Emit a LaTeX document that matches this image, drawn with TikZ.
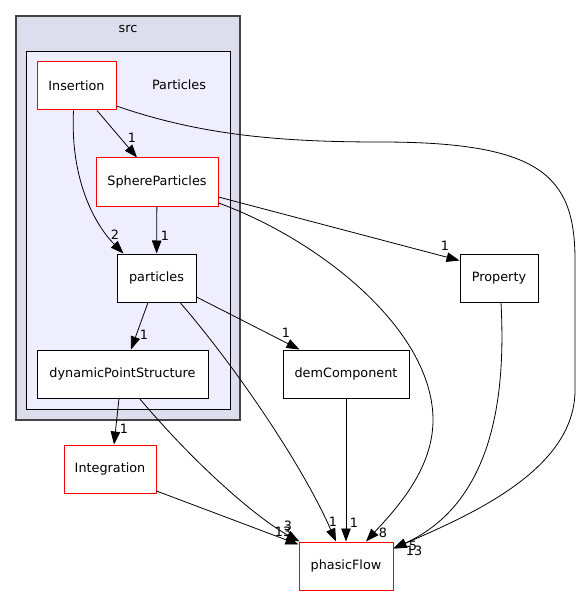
\documentclass[tikz,border=0pt]{standalone}
\usepackage{fontspec}
\setmainfont{DejaVu Sans}
\usetikzlibrary{arrows.meta,calc}
\definecolor{srcfill}{HTML}{DDDDEE}
\definecolor{srcdraw}{HTML}{444444}
\definecolor{partfill}{HTML}{EEEEFF}

\begin{document}
\begin{tikzpicture}[x=1pt, y=-1pt, every node/.style={font=\fontsize{12.8}{15}\selectfont},
		dir/.style={draw=black, fill=white, line width=1pt, minimum height=48pt, inner sep=0pt},
		reddir/.style={dir, draw=red},
		dep/.style={-{Triangle[length=13pt,width=9.5pt]}, line width=0.8pt},
		lbl/.style={inner sep=0pt}]
		\useasboundingbox (0,0) rectangle (580,596);
		% clusters
		\draw[fill=srcfill, draw=srcdraw, line width=1.3pt] (16,16) rectangle (240,420);
		\node (srclabel) at (128,29) {src};
		\draw[fill=partfill, draw=black, line width=1pt] (26,52) rectangle (230,409);
		\node (partlabel) at (179,85) {Particles};
		% directories
		\node[reddir, minimum width=79pt] (ins) at (76.5,86) {Insertion};
		\node[reddir, minimum width=122pt] (sph) at (157,182) {SphereParticles};
		\node[dir, minimum width=79pt] (par) at (156.5,278) {particles};
		\node[dir, minimum width=171pt] (dps) at (122.5,374) {dynamicPointStructure};
		\node[reddir, minimum width=92pt] (int) at (110,469) {Integration};
		\node[dir, minimum width=126pt] (dem) at (346,374) {demComponent};
		\node[dir, minimum width=78pt] (prop) at (499,278) {Property};
		\node[reddir, minimum width=94pt] (pf) at (346,566) {phasicFlow};
		% dependencies
		\draw[dep] ([xshift=20.5pt]ins.south) -- ([xshift=-20pt]sph.north);
		\draw[dep] ([xshift=-3pt]ins.south) .. controls (70,180) and (95,225) .. ([xshift=7pt]par.north west);
		\draw[dep] ([yshift=-20pt]ins.east) .. controls (200,135) and (280,142) .. (380,142)
			.. controls (540,142) and (575,175) .. (575,260) -- (575,390)
			.. controls (575,470) and (470,515) .. ([yshift=-7pt]pf.north east);
		\draw[dep] (sph) -- (par);
		\draw[dep] ([yshift=-15pt]sph.east) -- ([yshift=-7pt]prop.north west);
		\draw[dep] ([yshift=-21pt]sph.east) .. controls (320,240) and (433,330) .. (433,420)
			.. controls (433,470) and (395,510) .. ([xshift=20pt]pf.north);
		\draw[dep] ([xshift=-8.5pt]par.south) -- ([xshift=8.5pt]dps.north);
		\draw[dep] ([yshift=-19pt]par.east) -- ([xshift=17pt]dem.north west);
		\draw[dep] ([xshift=23.5pt]par.south) .. controls (230,360) and (300,460) .. ([xshift=-10pt]pf.north);
		\draw[dep] ([xshift=-3.5pt]dps.south) -- ([xshift=4pt]int.north);
		\draw[dep] ([xshift=17pt]dps.south) .. controls (200,470) and (260,520) .. ([xshift=1pt]pf.north west);
		\draw[dep] ([yshift=-22pt]int.east) -- ([yshift=-3pt]pf.north west);
		\draw[dep] (dem) -- (pf);
		\draw[dep] ([xshift=2pt]prop.south) .. controls (505,380) and (500,500) .. ([yshift=-7pt]pf.north east);
		% counts
		\node[lbl] at (132,138) {1};
		\node[lbl] at (115,235) {2};
		\node[lbl] at (165,236) {1};
		\node[lbl] at (144,335) {1};
		\node[lbl] at (124,429) {1};
		\node[lbl] at (445,246) {1};
		\node[lbl] at (286,333) {1};
		\node[lbl] at (333,522) {1};
		\node[lbl] at (354,523) {1};
		\node[lbl] at (383,533) {8};
		\node[lbl] at (283,532) {13};
		\node[lbl] at (288,526) {3};
		\node[lbl] at (413,546) {5};
		\node[lbl] at (414,551) {13};
\end{tikzpicture}
\end{document}
